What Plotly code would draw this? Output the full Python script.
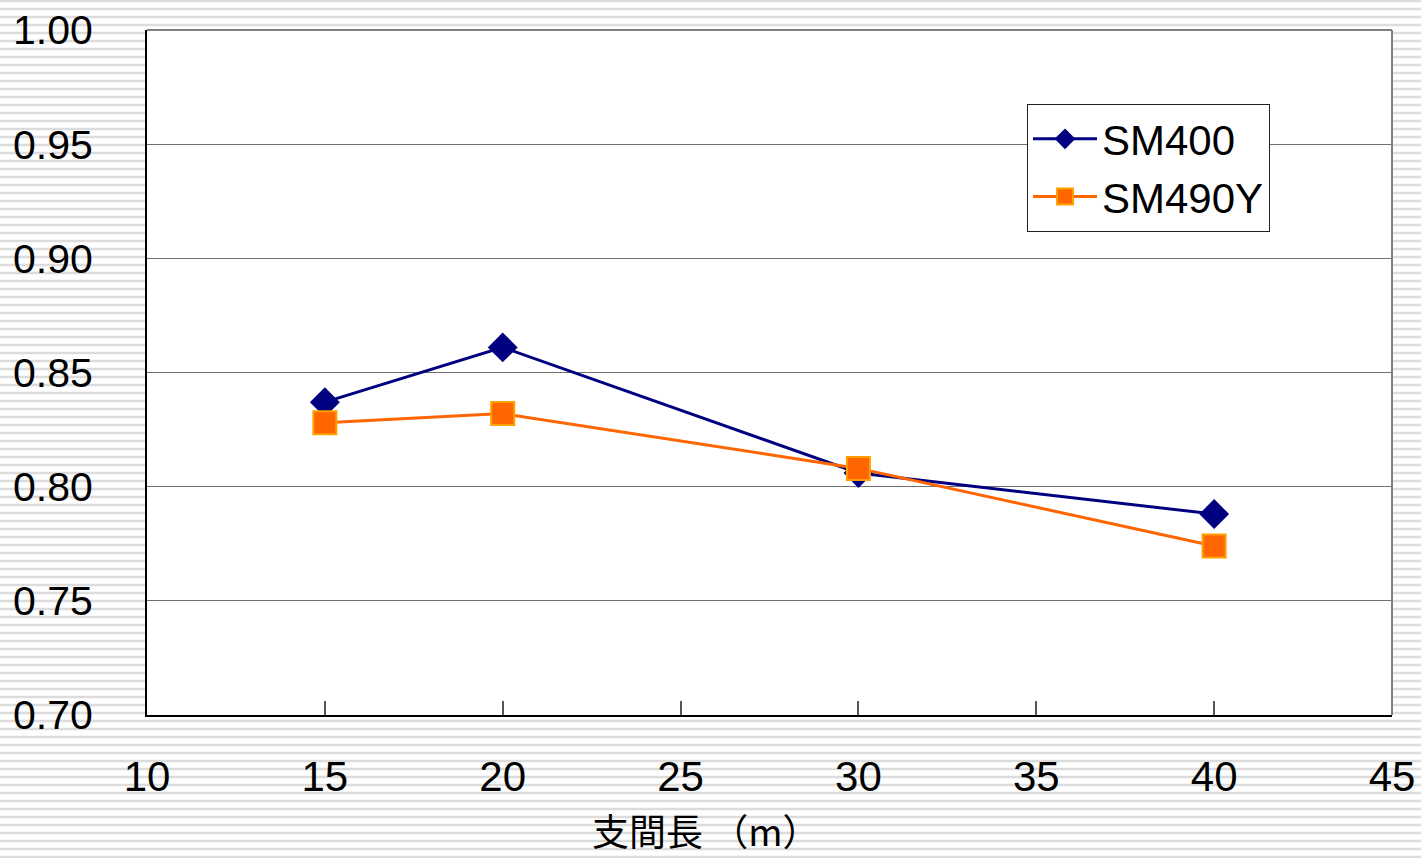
import plotly.graph_objects as go

span = [15, 20, 30, 40]
sm400 = [0.837, 0.861, 0.806, 0.788]
sm490y = [0.828, 0.832, 0.808, 0.774]
x_ticks = [10, 15, 20, 25, 30, 35, 40, 45]
y_ticks = [0.70, 0.75, 0.80, 0.85, 0.90, 0.95, 1.00]

W, H = 1421, 858
L, R, T, B = 147, 29, 30, 143
pw, ph = W - L - R, H - T - B

fig = go.Figure()
fig.add_trace(go.Scatter(
    x=span, y=sm400, name="SM400", mode="lines+markers",
    line=dict(color="#000080", width=3),
    marker=dict(symbol="diamond", size=23, color="#000080", line=dict(width=0)),
))
fig.add_trace(go.Scatter(
    x=span, y=sm490y, name="SM490Y", mode="lines+markers",
    line=dict(color="#FF6600", width=3),
    marker=dict(symbol="square", size=23, color="#FF6600", line=dict(color="#FFA000", width=2)),
))

# striped background (decorative)
def px2x(p):
    return (p - L) / pw

def py2y(p):
    return (H - B - p) / ph

path = ""
for p in range(1, H, 8):
    path += f"M{px2x(0)},{py2y(p)} L{px2x(W)},{py2y(p)} "
shapes = [
    dict(type="path", path=path, xref="paper", yref="paper", layer="below",
         line=dict(color="#dcdcdc", width=2.5)),
    dict(type="rect", xref="paper", yref="paper", x0=0, x1=1, y0=0, y1=1,
         layer="below", fillcolor="white", line=dict(width=0)),
    dict(type="line", xref="paper", yref="paper", x0=0, x1=1, y0=1, y1=1,
         line=dict(color="#808080", width=2)),
    dict(type="line", xref="paper", yref="paper", x0=1, x1=1, y0=0, y1=1,
         line=dict(color="#808080", width=2)),
]

fig.update_layout(
    width=W, height=H,
    margin=dict(l=L, r=R, t=T, b=B, autoexpand=False),
    paper_bgcolor="white", plot_bgcolor="white",
    shapes=shapes,
    font=dict(family="Liberation Sans, Arial, sans-serif", color="black"),
    showlegend=True,
    legend=dict(
        x=px2x(1027), y=py2y(104), xanchor="left", yanchor="top",
        bgcolor="white", bordercolor="#222", borderwidth=1,
        font=dict(size=42), itemwidth=64, tracegroupgap=0,
    ),
    xaxis=dict(
        range=[10, 45], tickvals=x_ticks, ticktext=[str(v) for v in x_ticks],
        showgrid=False, zeroline=False, automargin=False,
        showline=True, linecolor="black", linewidth=2,
        ticks="inside", ticklen=14, tickcolor="#555", tickwidth=1.5,
        tickfont=dict(size=42), ticklabelstandoff=24,
    ),
    yaxis=dict(
        range=[0.70, 1.00], tickvals=y_ticks, ticktext=[f"{v:.2f}" for v in y_ticks],
        showgrid=True, gridcolor="#707070", gridwidth=1, zeroline=False, automargin=False,
        showline=True, linecolor="black", linewidth=2,
        ticks="", tickfont=dict(size=41), ticklabelstandoff=44,
    ),
    annotations=[dict(
        text="支間長 （m）", xref="paper", yref="paper",
        x=px2x(706), y=py2y(830), xanchor="center", yanchor="middle",
        showarrow=False, font=dict(family="Noto Sans CJK JP", size=37, color="black"),
    )],
)

fig.write_html(
    "out.html",
    config={"displayModeBar": False},
    post_script="document.body.style.margin='0';document.body.style.overflow='hidden';",
)
